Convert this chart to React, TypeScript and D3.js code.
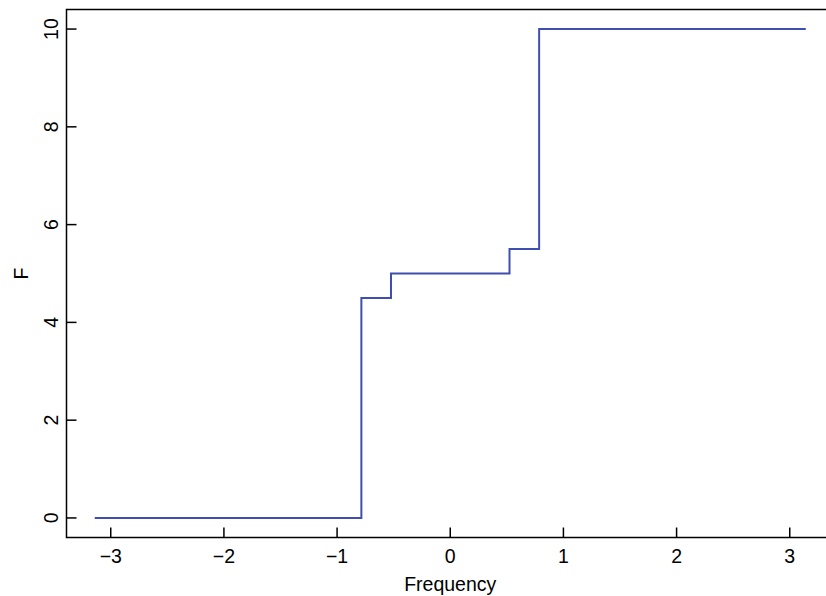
import React from "react";
import * as d3 from "d3";

const stepX = [-Math.PI, -Math.PI / 4, -Math.PI / 6, Math.PI / 6, Math.PI / 4, Math.PI];
const stepY = [0, 4.5, 5, 5.5, 10, 10];
const xTicks = [-3, -2, -1, 0, 1, 2, 3];
const yTicks = [0, 2, 4, 6, 8, 10];
const xLabel = "Frequency";
const yLabel = "F";

export default function App() {
  const W = 826, H = 596;
  const left = 66.5, right = 834, top = 9.5, bottom = 537.5;
  const x = d3.scaleLinear().domain([-3.391, 3.391]).range([left, right]);
  const y = d3.scaleLinear().domain([-0.4, 10.4]).range([bottom, top]);
  const pts: [number, number][] = stepX.map((v, i) => [v, stepY[i]]);
  const line = d3.line<[number, number]>().x(d => x(d[0])).y(d => y(d[1])).curve(d3.curveStepAfter);
  const font = "Liberation Sans, Arial, sans-serif";
  return (
    <svg width={W} height={H} style={{ position: "absolute", left: 0, top: 0, background: "#fff" }}>
      <path d={line(pts) || ""} fill="none" stroke="#3f4fb0" strokeWidth={2} />
      <rect x={left} y={top} width={right - left} height={bottom - top} fill="none" stroke="#000" strokeWidth={1.5} />
      {xTicks.map(t => (
        <g key={"x" + t}>
          <line x1={x(t)} x2={x(t)} y1={bottom} y2={bottom - 10} stroke="#000" strokeWidth={1.5} />
          <text x={x(t)} y={563} textAnchor="middle" fontFamily={font} fontSize={19.5}>
            {t < 0 ? "\u2212" + Math.abs(t) : String(t)}
          </text>
        </g>
      ))}
      {yTicks.map(t => (
        <g key={"y" + t}>
          <line x1={left} x2={left + 10} y1={y(t)} y2={y(t)} stroke="#000" strokeWidth={1.5} />
          <text transform={`translate(57.5,${y(t)}) rotate(-90)`} textAnchor="middle" fontFamily={font} fontSize={19.5}>
            {String(t)}
          </text>
        </g>
      ))}
      <text x={(left + right) / 2} y={591} textAnchor="middle" fontFamily={font} fontSize={19.5}>{xLabel}</text>
      <text transform={`translate(28,${(top + bottom) / 2}) rotate(-90)`} textAnchor="middle" fontFamily={font} fontSize={19.5}>{yLabel}</text>
    </svg>
  );
}
